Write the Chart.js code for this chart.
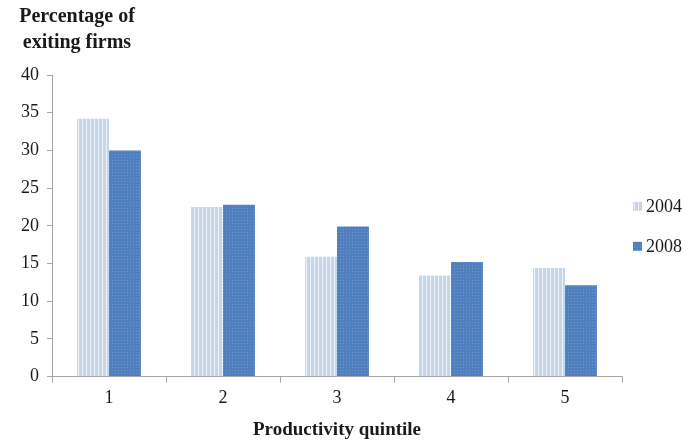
<!DOCTYPE html>
<html>
<head>
<meta charset="utf-8">
<script src="https://cdn.jsdelivr.net/npm/chart.js@4/dist/chart.umd.min.js"></script>
<style>
  html, body { margin: 0; padding: 0; background: #fff; }
  #wrap { width: 693px; height: 442px; position: relative; }
</style>
</head>
<body>
<div id="wrap"><canvas id="exitChart"></canvas></div>
<script>
// values
const quintiles = ['1', '2', '3', '4', '5'];
const exit2004 = [34.2, 22.5, 15.9, 13.4, 14.4];
const exit2008 = [30.0, 22.8, 19.9, 15.2, 12.1];
const yTitle = ['Percentage of', 'exiting firms'];
const xTitle = 'Productivity quintile';

const SERIF = '"Liberation Serif", "Times New Roman", serif';

// striped fill for 2004, dotted fill for 2008
function stripePattern() {
  const c = document.createElement('canvas');
  c.width = 4; c.height = 4;
  const g = c.getContext('2d');
  g.fillStyle = '#c6d6ea';
  g.fillRect(0, 0, 4, 4);
  g.fillStyle = '#eef3f9';
  g.fillRect(2, 0, 1, 4);
  return g.createPattern(c, 'repeat');
}

function dotPattern() {
  const c = document.createElement('canvas');
  c.width = 3; c.height = 3;
  const g = c.getContext('2d');
  g.fillStyle = '#4f7fbe';
  g.fillRect(0, 0, 3, 3);
  g.fillStyle = '#6f97cc';
  g.fillRect(1, 1, 1, 1);
  return g.createPattern(c, 'repeat');
}

// heading at top left and the legend on the right
const extrasPlugin = {
  id: 'extras',
  afterDraw(chart) {
    const ctx = chart.ctx;
    ctx.save();
    ctx.font = 'bold 20px ' + SERIF;
    ctx.fillStyle = '#1a1a1a';
    ctx.textAlign = 'center';
    ctx.textBaseline = 'middle';
    ctx.fillText(yTitle[0], 77, 17);
    ctx.fillText(yTitle[1], 77, 43);

    const area = chart.chartArea;
    const mid = (area.top + area.bottom) / 2;
    ctx.font = '18px ' + SERIF;
    ctx.textAlign = 'left';
    chart.data.datasets.forEach((ds, i) => {
      const y = mid - 20 + i * 40;
      ctx.fillStyle = ds.backgroundColor;
      ctx.fillRect(633, y - 4, 9, 9);
      ctx.fillStyle = '#1a1a1a';
      ctx.fillText(ds.label, 646, y + 1);
    });
    ctx.restore();
  }
};

new Chart(document.getElementById('exitChart').getContext('2d'), {
  type: 'bar',
  data: {
    labels: quintiles,
    datasets: [
      { label: '2004', data: exit2004, backgroundColor: stripePattern(), borderWidth: 0 },
      { label: '2008', data: exit2008, backgroundColor: dotPattern(), borderWidth: 0 }
    ]
  },
  options: {
    responsive: true,
    maintainAspectRatio: false,
    animation: false,
    layout: { padding: { top: 75, left: 13, right: 71, bottom: 1 } },
    datasets: { bar: { barPercentage: 1, categoryPercentage: 0.56 } },
    plugins: {
      legend: { display: false },
      tooltip: { enabled: false }
    },
    scales: {
      x: {
        grid: { offset: true, drawOnChartArea: false, tickLength: 6, color: '#a6a6a6' },
        border: { color: '#a6a6a6' },
        ticks: { color: '#1a1a1a', font: { family: SERIF, size: 18 }, padding: 5 },
        title: {
          display: true,
          text: xTitle,
          color: '#1a1a1a',
          font: { family: SERIF, size: 19, weight: 'bold' },
          padding: { top: 4, bottom: 0 }
        }
      },
      y: {
        min: 0,
        max: 40,
        grid: { drawOnChartArea: false, tickLength: 5, color: '#a6a6a6' },
        border: { color: '#a6a6a6' },
        ticks: { stepSize: 5, color: '#1a1a1a', font: { family: SERIF, size: 18 }, padding: 8 }
      }
    }
  },
  plugins: [extrasPlugin]
});
</script>
</body>
</html>
